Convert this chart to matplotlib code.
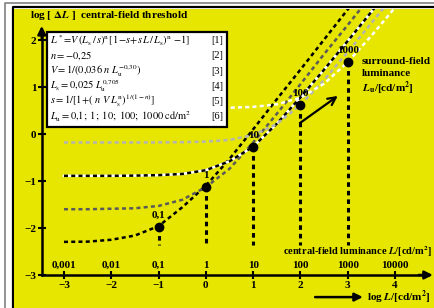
import matplotlib
matplotlib.use("Agg")
import matplotlib.pyplot as plt
from matplotlib.patches import Rectangle

plt.rcParams['font.family'] = ['Liberation Serif', 'DejaVu Serif']
plt.rcParams['mathtext.fontset'] = 'stix'

# log10 of central-field luminance L
logL = [-3, -2.5, -2, -1.5, -1, -0.5, 0, 0.5, 1, 1.5, 2, 2.5, 3, 3.5, 4, 4.5]

# log threshold curves, one per surround luminance
thr_01 = [-2.295, -2.29, -2.25, -2.16, -1.96, -1.56, -1.10, -0.53, 0.10, 0.74, 1.37, 2.01, 2.65, 3.27]
thr_1 = [-1.60, -1.60, -1.59, -1.58, -1.53, -1.40, -1.13, -0.74, -0.18, 0.43, 1.06, 1.70, 2.32, 2.95]
thr_10 = [-0.89, -0.89, -0.89, -0.885, -0.875, -0.85, -0.77, -0.58, -0.27, 0.22, 0.78, 1.37, 1.98, 2.60, 3.22]
thr_100 = [-0.18, -0.18, -0.18, -0.18, -0.178, -0.174, -0.162, -0.125, -0.022, 0.213, 0.62, 1.15, 1.745, 2.36, 2.98]
thr_1000 = [0.55, 0.55, 0.55, 0.55, 0.55, 0.55, 0.553, 0.559, 0.577, 0.631, 0.773, 1.07, 1.53, 2.09, 2.69, 3.31]

# points where L = Lu
dot_logL = [-1, 0, 1, 2, 3]
dot_thr = [-1.97, -1.13, -0.28, 0.62, 1.53]
dot_labels = ["0,1", "1", "10", "100", "1000"]
drop_to = -2.37

xticks = [-3, -2, -1, 0, 1, 2, 3, 4]
xtick_labels = ["\u22123", "\u22122", "\u22121", "0", "1", "2", "3", "4"]
lum_labels = ["0,001", "0,01", "0,1", "1", "10", "100", "1000", "10000"]
yticks = [-3, -2, -1, 0, 1, 2]
ytick_labels = ["\u22123", "\u22122", "\u22121", "0", "1", "2"]

formulas = [
    r"$L^*\!=\!V\,(L_\mathrm{s}\,/\,s)^\mathrm{n}[\,1\!-\!s\!+\!s\,L\,/\,L_\mathrm{s})^\mathrm{n}\,-\!1]$",
    r"$n = -0{,}25$",
    r"$V = 1/(0{,}036\ n\ L_\mathrm{u}^{-0{,}30})$",
    r"$L_\mathrm{s} = 0{,}025\ L_\mathrm{u}^{0{,}705}$",
    r"$s = 1/[1\!+\!(\ n\ V\ L_\mathrm{s}^\mathrm{n})^{1/(1-n)}]$",
    r"$L_\mathrm{u} = 0{,}1;\ 1;\ 10;\ 100;\ 1000\ \mathrm{cd/m}^2$",
]
refs = ["[1]", "[2]", "[3]", "[4]", "[5]", "[6]"]

yellow = '#e6e600'
fs = 8

fig = plt.figure(figsize=(4.34, 3.08), dpi=100)
fig.patch.set_facecolor('white')

# outer frame lines in pixel coords
bg = fig.add_axes([0, 0, 1, 1])
bg.set_xlim(0, 434)
bg.set_ylim(308, 0)
bg.axis('off')
bg.plot([5, 5, 434], [308, 3, 3], color='#808080', lw=1.2)
bg.plot([13, 13, 434], [308, 7, 7], color='black', lw=1.6)

ax = fig.add_axes([14 / 434, 0, 420 / 434, 299 / 308])
ax.set_facecolor(yellow)
ax.set_xlim(-4.057, 4.824)
ax.set_ylim(-3.702, 2.660)

for s in ['top', 'right']:
    ax.spines[s].set_visible(False)
ax.spines['left'].set_position(('data', -3.47))
ax.spines['bottom'].set_position(('data', -3))
ax.spines['left'].set_bounds(-3, 2.2)
ax.spines['bottom'].set_bounds(-3.47, 4.7)
ax.spines['left'].set_linewidth(1.8)
ax.spines['bottom'].set_linewidth(1.8)

ax.set_xticks(xticks, xtick_labels)
ax.set_yticks(yticks, ytick_labels)
ax.tick_params(direction='inout', length=6, width=1.5, labelsize=fs, pad=1)
for lbl in ax.get_xticklabels() + ax.get_yticklabels():
    lbl.set_fontweight('bold')

arrow = dict(arrowstyle='-|>', lw=1.8, color='black', mutation_scale=12, shrinkA=0, shrinkB=0)
ax.annotate('', xy=(-3.47, 2.30), xytext=(-3.47, 2.0), arrowprops=arrow)
ax.annotate('', xy=(4.80, -3), xytext=(4.5, -3), arrowprops=arrow)

for x, lab in zip(xticks, lum_labels):
    ax.text(x, -2.79, lab, ha='center', va='center', fontsize=fs, fontweight='bold')

# curves
dash = (0, (1.6, 1.3))
ax.plot(logL[:len(thr_01)], thr_01, color='black', lw=1.8, ls=dash, zorder=3)
ax.plot(logL[:len(thr_1)], thr_1, color='#5a5a5a', lw=1.8, ls=dash, zorder=3)
ax.plot(logL[:len(thr_10)], thr_10, color='white', lw=1.8, zorder=3)
ax.plot(logL[:len(thr_10)], thr_10, color='black', lw=1.8, ls=dash, zorder=3)
ax.plot(logL[:len(thr_100)], thr_100, color='#b4b4b4', lw=1.8, ls=dash, zorder=3)
ax.plot(logL[:len(thr_1000)], thr_1000, color='white', lw=1.8, ls=dash, zorder=3)

for x, y, lab in zip(dot_logL, dot_thr, dot_labels):
    ax.plot([x, x], [y, drop_to], color='black', lw=2.2, ls=(0, (1.5, 1.3)), zorder=4)
    ax.plot(x, y, 'o', color='black', ms=6, zorder=5)
    ax.text(x, y + 0.25, lab, ha='center', va='center', fontsize=fs, fontweight='bold', zorder=5)

# formula box
ax.add_patch(Rectangle((-3.36, 0.15), 3.807, 2.02, facecolor='white', edgecolor='black', lw=1.6, zorder=6))
line_y = [1.98, 1.66, 1.34, 1.02, 0.70, 0.38]
for y, f, r in zip(line_y, formulas, refs):
    ax.text(-3.296, y, f, ha='left', va='center', fontsize=7.5, zorder=7)
    ax.text(0.362, y, r, ha='right', va='center', fontsize=7.5, zorder=7)

ax.annotate('', xy=(2.79, 0.81), xytext=(1.99, 0.234),
            arrowprops=dict(arrowstyle='->', lw=1.6, color='black', mutation_scale=14, shrinkA=0, shrinkB=0))

ax.text(3.30, 1.553, "surround-field", ha='left', va='center', fontsize=fs, fontweight='bold')
ax.text(3.30, 1.277, "luminance", ha='left', va='center', fontsize=fs, fontweight='bold')
ax.text(3.30, 0.979, r"$\mathbfit{L}_\mathbf{u}$/[cd/m$^\mathbf{2}$]", ha='left', va='center',
        fontsize=fs, fontweight='bold')

ax.text(4.78, -2.50, r"central-field luminance $\mathbfit{L}$/[cd/m$^\mathbf{2}$]", ha='right', va='center',
        fontsize=7.5, fontweight='bold')
ax.text(3.41, -3.47, r"log $\mathbfit{L}$/[cd/m$^\mathbf{2}$]", ha='left', va='center',
        fontsize=fs, fontweight='bold')
ax.annotate('', xy=(3.32, -3.47), xytext=(2.31, -3.47), arrowprops=arrow)

fig.text(30 / 434, 1 - 16 / 308, r"log [ $\mathbf{\Delta}\mathbfit{L}$ ]  central-field threshold",
         ha='left', va='center', fontsize=fs, fontweight='bold')

fig.savefig('out.png', dpi=100)
